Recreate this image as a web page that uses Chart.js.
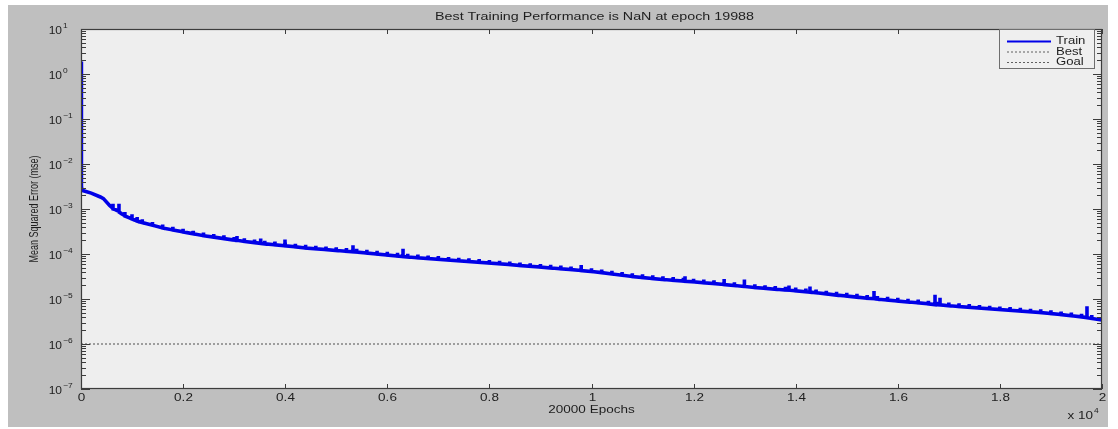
<!DOCTYPE html>
<html>
<head>
<meta charset="utf-8">
<script src="https://cdn.jsdelivr.net/npm/chart.js@4/dist/chart.umd.min.js"></script>
<style>
html,body{margin:0;padding:0;background:#ffffff;}
canvas{display:block;}
</style>
</head>
<body>
<canvas id="c" width="1118" height="429"></canvas>
<script>
// ---- data ----
const titleText = "Best Training Performance is NaN at epoch 19988";
const xAxisTitle = "20000 Epochs";
const yAxisTitle = "Mean Squared Error (mse)";
const xTickValues = [0, 2000, 4000, 6000, 8000, 10000, 12000, 14000, 16000, 18000, 20000];
const xTickLabels = ["0", "0.2", "0.4", "0.6", "0.8", "1", "1.2", "1.4", "1.6", "1.8", "2"];
const yTickExponents = [1, 0, -1, -2, -3, -4, -5, -6, -7];
const legendLabels = ["Train", "Best", "Goal"];

// start of the training curve (epoch, mse), incl. the early spikes
const earlyEpochs = [0, 6, 10, 20, 200, 380, 440, 560, 620, 627, 627, 627, 680, 744, 744, 744, 800, 860, 860, 860, 960, 999, 999, 999, 1100, 1100, 1100];
const earlyMse    = [1.9, 0.012, 3.2e-3, 2.6e-3, 2.25e-3, 1.85e-3, 1.7e-3, 1.2e-3, 1.05e-3, 1.02e-3, 1.3e-3, 1.0e-3, 9.6e-4, 8.8e-4, 1.3e-3, 8.6e-4, 7.8e-4, 7.1e-4, 8.6e-4, 7.0e-4, 6.3e-4, 6.0e-4, 7.6e-4, 6.0e-4, 5.4e-4, 6.6e-4, 5.4e-4];

// main curve every 200 epochs: level of the band and the small tooth on it
const curveEpochs = [1200,1400,1600,1800,2000,2200,2400,2600,2800,3000,3200,3400,3600,3800,4000,4200,4400,4600,4800,5000,5200,5400,5600,5800,6000,6200,6400,6600,6800,7000,7200,7400,7600,7800,8000,8200,8400,8600,8800,9000,9200,9400,9600,9800,10000,10200,10400,10600,10800,11000,11200,11400,11600,11800,12000,12200,12400,12600,12800,13000,13200,13400,13600,13800,14000,14200,14400,14600,14800,15000,15200,15400,15600,15800,16000,16200,16400,16600,16800,17000,17200,17400,17600,17800,18000,18200,18400,18600,18800,19000,19200,19400,19600,19800,20000];
const curveMse = [5.0e-4,4.36e-4,3.8e-4,3.43e-4,3.1e-4,2.81e-4,2.55e-4,2.37e-4,2.2e-4,2.04e-4,1.9e-4,1.79e-4,1.68e-4,1.6e-4,1.52e-4,1.44e-4,1.36e-4,1.3e-4,1.25e-4,1.2e-4,1.15e-4,1.1e-4,1.05e-4,1.0e-4,9.5e-5,9.0e-5,8.6e-5,8.25e-5,7.9e-5,7.6e-5,7.3e-5,7.05e-5,6.8e-5,6.55e-5,6.3e-5,6.05e-5,5.8e-5,5.55e-5,5.3e-5,5.1e-5,4.9e-5,4.7e-5,4.5e-5,4.3e-5,4.1e-5,3.85e-5,3.6e-5,3.37e-5,3.15e-5,3.0e-5,2.85e-5,2.72e-5,2.6e-5,2.5e-5,2.4e-5,2.3e-5,2.2e-5,2.1e-5,2.0e-5,1.9e-5,1.8e-5,1.72e-5,1.65e-5,1.58e-5,1.52e-5,1.45e-5,1.38e-5,1.3e-5,1.22e-5,1.16e-5,1.1e-5,1.04e-5,9.9e-6,9.45e-6,9.0e-6,8.6e-6,8.2e-6,7.8e-6,7.4e-6,7.1e-6,6.8e-6,6.55e-6,6.3e-6,6.05e-6,5.8e-6,5.6e-6,5.4e-6,5.2e-6,5.0e-6,4.75e-6,4.5e-6,4.25e-6,4.0e-6,3.7e-6,3.4e-6];
const toothMse = [5.9e-4,5.15e-4,4.5e-4,4.05e-4,3.65e-4,3.3e-4,3.0e-4,2.8e-4,2.6e-4,2.4e-4,2.24e-4,2.1e-4,1.98e-4,1.89e-4,1.79e-4,1.7e-4,1.6e-4,1.53e-4,1.47e-4,1.42e-4,1.36e-4,1.3e-4,1.24e-4,1.18e-4,1.12e-4,1.06e-4,1.01e-4,9.7e-5,9.3e-5,9.0e-5,8.6e-5,8.3e-5,8.0e-5,7.7e-5,7.4e-5,7.1e-5,6.8e-5,6.5e-5,6.25e-5,6.0e-5,5.8e-5,5.55e-5,5.3e-5,5.1e-5,4.85e-5,4.55e-5,4.25e-5,3.98e-5,3.72e-5,3.54e-5,3.36e-5,3.2e-5,3.07e-5,2.95e-5,2.83e-5,2.71e-5,2.6e-5,2.48e-5,2.36e-5,2.24e-5,2.12e-5,2.03e-5,1.95e-5,1.86e-5,1.79e-5,1.71e-5,1.63e-5,1.53e-5,1.44e-5,1.37e-5,1.3e-5,1.23e-5,1.17e-5,1.12e-5,1.06e-5,1.01e-5,9.7e-6,9.2e-6,8.7e-6,8.4e-6,8.0e-6,7.7e-6,7.4e-6,7.1e-6,6.8e-6,6.6e-6,6.4e-6,6.1e-6,5.9e-6,5.6e-6,5.3e-6,5.0e-6,4.7e-6,4.4e-6,null];

// larger spikes: epoch, level at the foot, peak
const spikeEpochs = [3056, 3520, 3996, 5328, 6308, 9795, 11832, 12596, 12988, 13869, 14280, 15534, 16729, 16827, 19706];
const spikeBase   = [2.02e-4, 1.72e-4, 1.52e-4, 1.12e-4, 8.8e-5, 4.3e-5, 2.48e-5, 2.1e-5, 1.9e-5, 1.57e-5, 1.42e-5, 1.02e-5, 7.5e-6, 7.4e-6, 3.85e-6];
const spikePeak   = [2.5e-4, 2.2e-4, 2.1e-4, 1.56e-4, 1.3e-4, 5.7e-5, 3.2e-5, 2.8e-5, 2.7e-5, 2.0e-5, 1.9e-5, 1.5e-5, 1.24e-5, 1.07e-5, 6.9e-6];

const bestEpochs = [];
const bestMse = [];
const goalEpochs = [0, 20000];
const goalMse = [1e-6, 1e-6];

// ---- styling ----
const FIG_BG = '#bfbfbf';
const PLOT_BG = '#eeeeee';
const AXIS = '#3c3c3c';
const TEXT = '#1e1e1e';
const TRAIN_COLOR = '#0000e8';
const SX = 1.35; // horizontal stretch of text in the reference
const FONT = '"Liberation Sans", Arial, sans-serif';

function toPoints(xs, ys) { return xs.map((x, i) => ({x: x, y: ys[i]})); }

function buildTrain() {
  const groups = [];
  earlyEpochs.forEach((e, i) => groups.push({e: e, k: 0, pts: [earlyMse[i]]}));
  curveEpochs.forEach((e, i) => {
    const p = [curveMse[i]];
    if (toothMse[i] != null) { p.push(toothMse[i], curveMse[i]); }
    groups.push({e: e, k: 1, pts: p});
  });
  spikeEpochs.forEach((e, i) => groups.push({e: e, k: 2, pts: [spikeBase[i], spikePeak[i], spikeBase[i]]}));
  groups.sort((a, b) => a.e - b.e || a.k - b.k);
  const out = [];
  groups.forEach(g => g.pts.forEach(v => out.push({x: g.e, y: v})));
  return out;
}

function sText(ctx, text, x, y, size, align, baseline, sx) {
  ctx.save();
  ctx.translate(x, y);
  ctx.scale(sx || SX, 1);
  ctx.font = size + 'px ' + FONT;
  ctx.textAlign = align;
  ctx.textBaseline = baseline;
  ctx.fillStyle = TEXT;
  ctx.fillText(text, 0, 0);
  ctx.restore();
}

const decorPlugin = {
  id: 'decor',
  beforeDraw(chart) {
    const ctx = chart.ctx, a = chart.chartArea;
    ctx.save();
    ctx.fillStyle = '#ffffff';
    ctx.fillRect(0, 0, chart.width, chart.height);
    ctx.fillStyle = FIG_BG;
    ctx.fillRect(8, 5, 1100, 422);
    ctx.fillStyle = PLOT_BG;
    ctx.fillRect(a.left, a.top, a.right - a.left, a.bottom - a.top);
    ctx.restore();
  },
  afterDatasetsDraw(chart) {
    const ctx = chart.ctx, a = chart.chartArea;
    const xs = chart.scales.x, ys = chart.scales.y;
    ctx.save();
    ctx.strokeStyle = AXIS;
    ctx.lineWidth = 1.2;
    ctx.strokeRect(a.left + 0.5, a.top + 0.5, a.right - a.left - 1, a.bottom - a.top - 1);
    ctx.lineWidth = 1;
    xTickValues.forEach((v, i) => {
      const px = Math.round(xs.getPixelForValue(v)) + 0.5;
      ctx.beginPath();
      ctx.moveTo(px, a.bottom); ctx.lineTo(px, a.bottom - 5);
      ctx.moveTo(px, a.top); ctx.lineTo(px, a.top + 5);
      ctx.stroke();
      sText(ctx, xTickLabels[i], px, a.bottom + 9, 10, 'center', 'middle');
    });
    yTickExponents.forEach((e) => {
      const py = Math.round(ys.getPixelForValue(Math.pow(10, e))) + 0.5;
      ctx.beginPath();
      ctx.moveTo(a.left, py); ctx.lineTo(a.left + 9, py);
      ctx.moveTo(a.right, py); ctx.lineTo(a.right - 9, py);
      ctx.stroke();
      if (e < 1) {
        for (let m = 2; m <= 9; m++) {
          const my = Math.round(ys.getPixelForValue(m * Math.pow(10, e))) + 0.5;
          ctx.beginPath();
          ctx.moveTo(a.left, my); ctx.lineTo(a.left + 5, my);
          ctx.moveTo(a.right, my); ctx.lineTo(a.right - 5, my);
          ctx.stroke();
        }
      }
      sText(ctx, '10', 62, py + 2, 10, 'right', 'middle', 1.2);
      sText(ctx, String(e).replace('-', '\u2212'), 63, py - 3, 7, 'left', 'middle', 1.2);
    });
    sText(ctx, titleText, (a.left + a.right) / 2 + 3, 17, 11, 'center', 'middle', 1.3);
    sText(ctx, xAxisTitle, (a.left + a.right) / 2, a.bottom + 21, 10, 'center', 'middle');
    sText(ctx, 'x 10', 1093, a.bottom + 27, 10, 'right', 'middle');
    sText(ctx, '4', 1094, a.bottom + 22, 7, 'left', 'middle', 1.2);
    ctx.save();
    ctx.translate(35, (a.top + a.bottom) / 2);
    ctx.rotate(-Math.PI / 2);
    ctx.scale(1, 1.35);
    ctx.font = '9px ' + FONT;
    ctx.textAlign = 'center';
    ctx.textBaseline = 'middle';
    ctx.fillStyle = TEXT;
    ctx.fillText(yAxisTitle, 0, 0);
    ctx.restore();
    // legend
    const lx = 999, ly = a.top, lw = 96, lh = 40;
    ctx.fillStyle = '#efefef';
    ctx.fillRect(lx, ly, lw, lh);
    ctx.strokeStyle = '#6e6e6e';
    ctx.lineWidth = 1;
    ctx.strokeRect(lx + 0.5, ly + 0.5, lw - 1, lh - 1);
    const ds = chart.data.datasets;
    legendLabels.forEach((lab, i) => {
      const yy = ly + 12.5 + i * 10.5;
      ctx.beginPath();
      ctx.strokeStyle = ds[i].borderColor;
      ctx.lineWidth = i === 0 ? 2 : 0.8;
      ctx.setLineDash(ds[i].borderDash || []);
      ctx.moveTo(lx + 8, yy); ctx.lineTo(lx + 52, yy);
      ctx.stroke();
      ctx.setLineDash([]);
      sText(ctx, lab, lx + 57, yy, 10.5, 'left', 'middle', 1.25);
    });
    ctx.restore();
  }
};

new Chart(document.getElementById('c'), {
  type: 'line',
  data: {
    datasets: [
      { label: legendLabels[0], data: buildTrain(), borderColor: TRAIN_COLOR,
        borderWidth: 3.6, pointRadius: 0, tension: 0, borderJoinStyle: 'miter', order: 1 },
      { label: legendLabels[1], data: toPoints(bestEpochs, bestMse), borderColor: '#3a3a3a',
        borderWidth: 0.8, borderDash: [2, 2], pointRadius: 0, order: 2 },
      { label: legendLabels[2], data: toPoints(goalEpochs, goalMse), borderColor: '#3a3a3a',
        borderWidth: 0.9, borderDash: [2, 2], pointRadius: 0, order: 2 }
    ]
  },
  options: {
    responsive: false,
    animation: false,
    devicePixelRatio: 1,
    parsing: false,
    layout: { padding: { left: 81, top: 29, right: 16, bottom: 40 } },
    plugins: { legend: { display: false }, tooltip: { enabled: false }, title: { display: false } },
    scales: {
      x: { type: 'linear', min: 0, max: 20000, display: false },
      y: { type: 'logarithmic', min: 1e-7, max: 10, display: false }
    }
  },
  plugins: [decorPlugin]
});
</script>
</body>
</html>
